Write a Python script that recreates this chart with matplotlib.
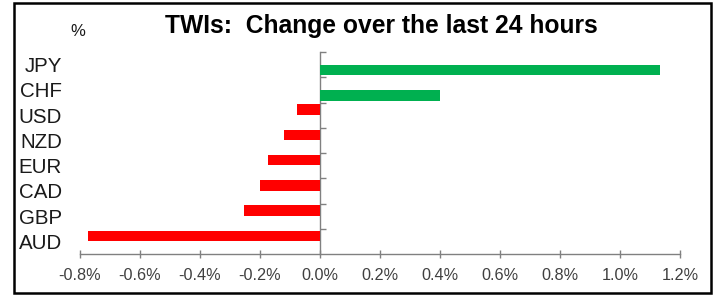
import matplotlib
matplotlib.use("Agg")
import matplotlib.pyplot as plt
from matplotlib.patches import Rectangle
from matplotlib.ticker import FuncFormatter
import numpy as np

plt.rcParams['font.family'] = ['Liberation Sans', 'DejaVu Sans']

# Data (top to bottom)
currencies = ["JPY", "CHF", "USD", "NZD", "EUR", "CAD", "GBP", "AUD"]
changes = [1.133, 0.40, -0.077, -0.12, -0.173, -0.20, -0.253, -0.773]
x_ticks = [-0.8, -0.6, -0.4, -0.2, 0.0, 0.2, 0.4, 0.6, 0.8, 1.0, 1.2]
title = "TWIs:  Change over the last 24 hours"
unit_label = "%"

W, H = 714, 299
fig = plt.figure(figsize=(W / 100, H / 100), dpi=100)
fig.patch.set_facecolor("white")

ax = fig.add_axes([80 / W, 1 - 254 / H, 600 / W, 202 / H])

n = len(currencies)
centers = np.arange(n) + 0.5
vals = np.array(changes)
offset = 0.22
pos_y = centers + np.where(vals >= 0, offset, -offset)
colors = np.where(vals >= 0, "#00B050", "#FF0000")
ax.barh(pos_y, vals, height=0.42, color=colors, edgecolor="none")

xmin, xmax = x_ticks[0], x_ticks[-1]
ax.set_xlim(xmin, xmax)
ax.set_ylim(n, 0)

for s in ["top", "right", "left"]:
    ax.spines[s].set_visible(False)
ax.spines["bottom"].set_color("#808080")
ax.spines["bottom"].set_linewidth(1.0)

ax.set_xticks(x_ticks)
ax.xaxis.set_major_formatter(FuncFormatter(lambda v, p: f"{v:.1f}%"))
ax.tick_params(axis="x", direction="inout", length=6, width=1.0, color="#808080",
               pad=7, labelsize=11.7, labelcolor="#404040")

ax.set_yticks(centers)
ax.set_yticklabels(currencies)
ax.tick_params(axis="y", length=0, pad=13, labelsize=14.8, labelcolor="#1a1a1a")

# category axis at x = 0
loc = (0 - xmin) / (xmax - xmin)
sec = ax.secondary_yaxis(loc)
sec.spines["left"].set_color("#808080")
sec.spines["left"].set_linewidth(1.0)
sec.set_yticks(np.arange(n))
sec.set_yticklabels([])
sec.tick_params(axis="y", direction="in", length=4.5, width=1.0, color="#808080")

fig.text(0.5336, 1 - 33 / H, title, ha="center", va="baseline",
         fontsize=17.7, fontweight="bold", color="black")
fig.text(77.5 / W, 1 - 36 / H, unit_label, ha="center", va="baseline",
         fontsize=12, color="#1a1a1a")

fig.patches.append(Rectangle((14 / W, 1 - 293 / H), (711 - 14) / W, (293 - 3) / H,
                             transform=fig.transFigure, fill=False,
                             edgecolor="black", linewidth=1.8))

fig.savefig("out.png", dpi=100, facecolor="white")
